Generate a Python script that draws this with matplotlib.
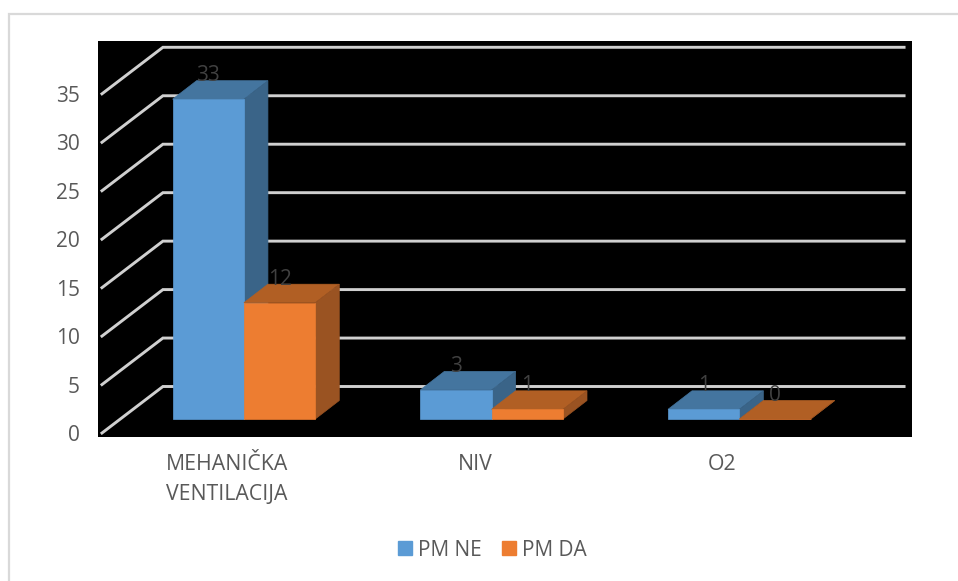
import numpy as np
import matplotlib
matplotlib.use("Agg")
import matplotlib.pyplot as plt
from matplotlib.lines import Line2D
from matplotlib.patches import Patch, Polygon

categories = ["MEHANIČKA\nVENTILACIJA", "NIV", "O2"]
pm_ne = [33, 3, 1]
pm_da = [12, 1, 0]
y_ticks = [0, 5, 10, 15, 20, 25, 30, 35]

text_color = "#595959"
label_color = "#404040"
plt.rcParams["font.family"] = ["Open Sans", "DejaVu Sans"]

W, H = 958, 581
fig = plt.figure(figsize=(W / 100, H / 100), dpi=100, facecolor="white")
ax = fig.add_axes([98 / W, 1 - 437 / H, (912 - 98) / W, (437 - 41) / H], facecolor="black")

# one category = 247.7 px, one value unit = 9.69 px
ax.set_xlim(-0.589, 2.697)
ax.set_ylim(-0.41, 40.45)

x = np.arange(len(categories))

# pseudo 3d geometry, in data units
wall_left, wall_right = -0.573, 2.665
wall_dx, wall_dy = 0.246, 4.8
bar_w = 0.288
bar_lift = 1.445
depth_x, depth_y = 0.097, 1.91

# gridlines: short diagonal on the side wall, then along the back wall
for v in y_ticks:
    ax.plot([wall_left, wall_left + wall_dx, wall_right],
            [v, v + wall_dy, v + wall_dy],
            color="#D0D0D0", lw=2.1, solid_joinstyle="miter", zorder=1)


def draw_bars(x0, values, front, top, side, z):
    bars = ax.bar(x0, values, bar_w, bottom=bar_lift, align="edge", color=front,
                  edgecolor=front, linewidth=0.5, zorder=z + 0.2)
    for b, v in zip(bars, values):
        l, r = b.get_x(), b.get_x() + b.get_width()
        y0, y1 = bar_lift, bar_lift + v
        ax.add_patch(Polygon([(l, y1), (r, y1), (r + depth_x, y1 + depth_y), (l + depth_x, y1 + depth_y)],
                             facecolor=top, edgecolor=top, lw=0.5, zorder=z))
        ax.add_patch(Polygon([(r, y0), (r + depth_x, y0 + depth_y), (r + depth_x, y1 + depth_y), (r, y1)],
                             facecolor=side, edgecolor=side, lw=0.5, zorder=z))
        ax.annotate(str(v), ((l + r) / 2, y1), xytext=(0, 17), textcoords="offset points",
                    ha="center", va="center", color=label_color, fontsize=15, zorder=10)


draw_bars(x - bar_w, pm_ne, "#5B9BD5", "#44759F", "#3A6488", 3)
draw_bars(x, pm_da, "#ED7D31", "#B15F24", "#9A5322", 4)

ax.set_yticks(y_ticks)
ax.set_xticks(x - 0.068)
ax.set_xticklabels(categories, linespacing=1.55)
ax.tick_params(axis="y", length=0, pad=13, labelsize=15, labelcolor=text_color)
ax.tick_params(axis="x", length=0, pad=12.5, labelsize=15.3, labelcolor=text_color)
for s in ax.spines.values():
    s.set_visible(False)

handles = [Patch(color="#5B9BD5", label="PM NE"), Patch(color="#ED7D31", label="PM DA")]
fig.legend(handles=handles, ncols=2, frameon=False, loc="center",
           bbox_to_anchor=(492.5 / W, 1 - 550 / H), fontsize=15, labelcolor=text_color,
           handlelength=0.68, handleheight=0.68, handletextpad=0.3, columnspacing=0.95)

# chart frame: only the top and left edges show
fig.add_artist(Line2D([8.5 / W, 8.5 / W, 1], [0, 1 - 13.5 / H, 1 - 13.5 / H],
                      color="#D9D9D9", lw=1.6, solid_joinstyle="miter"))

plt.savefig("out.png", dpi=100)
plt.close()
